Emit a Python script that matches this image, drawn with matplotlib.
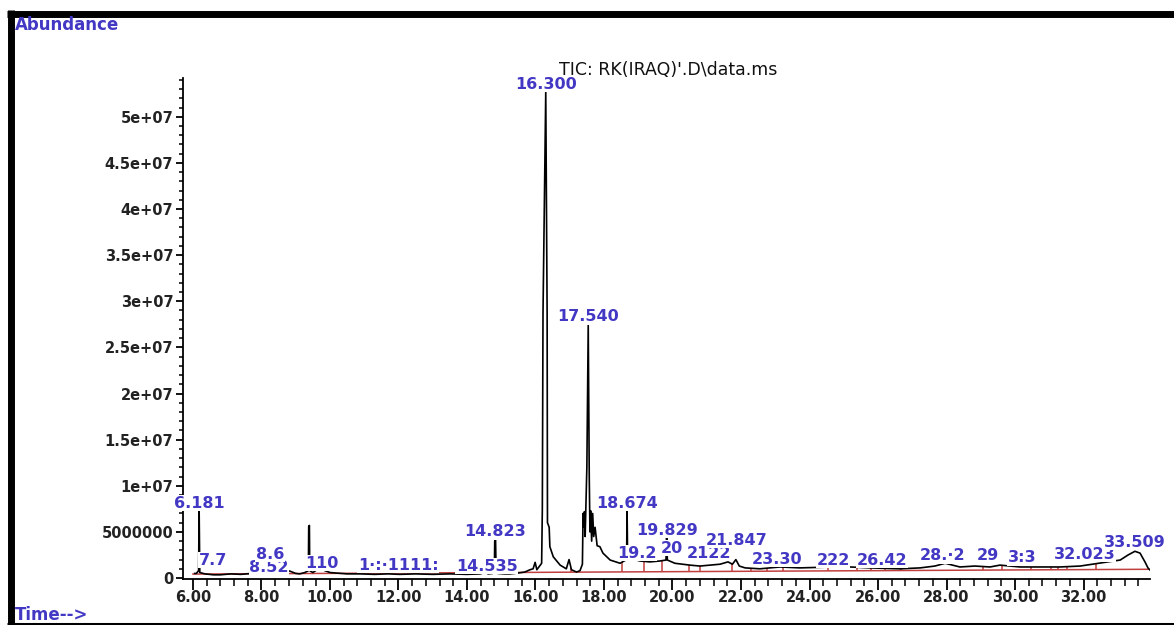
import matplotlib
matplotlib.use("Agg")
import matplotlib.pyplot as plt
import numpy as np
from matplotlib.lines import Line2D
from matplotlib.ticker import MultipleLocator

# retention time (min) and abundance (x 1e6)
rt_min = [6.05, 6.10, 6.165, 6.181, 6.20, 6.35, 6.60, 6.80, 7.10, 7.40,
          7.70, 7.96, 8.10, 8.25, 8.40, 8.54, 8.70, 8.83, 9.00, 9.12,
          9.27, 9.37, 9.38, 9.40, 9.41, 9.50, 9.62, 9.72, 9.85, 10.00,
          10.15, 10.50, 10.88, 11.30, 11.70, 12.04, 12.50, 13.00, 13.50, 14.00,
          14.38, 14.53, 14.62, 14.75, 14.80, 14.81, 14.835, 14.85, 14.90, 15.10,
          15.26, 15.50, 15.69, 15.84, 15.93, 15.99, 16.04, 16.12, 16.18, 16.20,
          16.22, 16.30, 16.34, 16.35, 16.40, 16.42, 16.52, 16.72, 16.90, 16.98,
          17.05, 17.20, 17.30, 17.37, 17.39, 17.41, 17.43, 17.45, 17.47, 17.50,
          17.54, 17.57, 17.59, 17.61, 17.64, 17.67, 17.70, 17.74, 17.80, 17.88,
          17.97, 18.18, 18.47, 18.61, 18.66, 18.674, 18.69, 18.85, 19.05, 19.34,
          19.64, 19.81, 19.829, 19.85, 20.07, 20.51, 20.80, 21.09, 21.39, 21.62,
          21.75, 21.85, 21.95, 22.12, 22.55, 23.14, 23.72, 24.69, 25.18, 25.77,
          26.64, 27.23, 27.66, 27.96, 28.39, 28.83, 29.27, 29.56, 30.15, 30.73,
          31.31, 31.90, 32.63, 33.07, 33.30, 33.50, 33.65, 33.80, 33.88, 33.94]
abundance_e6 = [0.5, 0.5, 0.8, 7.4, 0.6, 0.45, 0.35, 0.35, 0.45, 0.4,
                0.5, 0.65, 0.55, 0.9, 0.7, 1.0, 0.8, 0.75, 0.5, 0.45,
                0.6, 0.8, 5.6, 5.7, 0.8, 0.6, 0.9, 1.1, 0.8, 0.6,
                0.55, 0.45, 0.45, 0.4, 0.45, 0.4, 0.45, 0.4, 0.45, 0.4,
                0.45, 0.6, 0.45, 0.5, 0.7, 4.0, 4.1, 0.7, 0.5, 0.45,
                0.45, 0.55, 0.65, 0.9, 1.0, 1.7, 0.9, 1.3, 1.6, 7.4,
                28.8, 52.7, 28.8, 6.0, 5.5, 3.4, 2.3, 1.4, 1.0, 2.0,
                0.9, 0.65, 0.8, 1.5, 7.0, 5.5, 7.2, 4.5, 7.5, 12.0,
                27.4, 11.0, 5.0, 7.3, 4.0, 7.0, 4.5, 5.5, 3.5, 3.4,
                2.7, 1.95, 1.6, 1.9, 2.0, 7.4, 2.0, 2.05, 1.85, 1.75,
                1.85, 1.95, 4.4, 1.95, 1.6, 1.4, 1.3, 1.4, 1.5, 1.75,
                1.5, 2.0, 1.3, 1.1, 1.0, 1.2, 1.1, 1.2, 1.2, 1.1,
                1.0, 1.1, 1.3, 1.6, 1.2, 1.3, 1.2, 1.4, 1.2, 1.2,
                1.2, 1.3, 1.7, 1.95, 2.5, 2.9, 2.7, 1.7, 1.1, 0.87]

# integration baseline (red) and its event marks
baseline_rt = [6.0, 33.9]
baseline_e6 = [0.43, 0.95]
event_rt = [17.04, 18.53, 19.17, 19.69, 20.48, 20.80, 21.74, 22.29, 22.76, 23.23,
            24.54, 25.39, 25.80, 26.20, 26.67, 29.07, 29.62, 30.47, 31.05, 31.26,
            31.52, 32.36]

# peak labels as they show on the report (later ones overwrite earlier ones)
label_text = ["6.181", "7.7", "8.52", "8.6", "110", "1\u00b7:\u00b71111:", "14.535",
              "14.823", "16.300", "17.540", "18.674", "19.2", "19.829", "20",
              "2122", "21.847", "23.30", "222", "26.42", "28.\u00b72", "29",
              "3:3", "32.023", "33.509"]
label_rt = [6.181, 6.58, 8.22, 8.25, 9.77, 11.99, 14.58,
            14.823, 16.30, 17.54, 18.674, 18.95, 19.829, 19.98,
            21.07, 21.88, 23.05, 24.69, 26.12, 27.87, 29.21,
            30.20, 32.04, 33.50]
label_e6 = [8.1, 1.95, 1.1, 2.6, 1.6, 1.4, 1.3,
            5.0, 53.5, 28.3, 8.1, 2.7, 5.2, 3.25,
            2.7, 4.1, 2.05, 1.95, 1.95, 2.4, 2.4,
            2.2, 2.6, 3.9]

xticks = [6, 8, 10, 12, 14, 16, 18, 20, 22, 24, 26, 28, 30, 32]
yticks = [0, 5e6, 1e7, 1.5e7, 2e7, 2.5e7, 3e7, 3.5e7, 4e7, 4.5e7, 5e7]
ytick_labels = ["0", "5000000", "1e+07", "1.5e+07", "2e+07", "2.5e+07",
                "3e+07", "3.5e+07", "4e+07", "4.5e+07", "5e+07"]

W, H = 1174, 625
blue = "#4338c4"
plt.rcParams["font.family"] = ["DejaVu Sans"]

fig = plt.figure(figsize=(W / 100, H / 100), dpi=100)
ax = fig.add_axes([183 / W, 1 - 578.5 / H, (1150 - 183) / W, (578.5 - 78) / H])

rt = np.array(rt_min)
ab = np.array(abundance_e6) * 1e6
ax.plot(rt, ab, color="black", lw=1.2, zorder=3)

base = np.array(baseline_e6) * 1e6
ax.plot(baseline_rt, base, color="#c0403f", lw=1.1, zorder=2)
ev_bottom = np.interp(event_rt, baseline_rt, base)
ev_top = np.interp(event_rt, rt, ab)
ax.vlines(event_rt, ev_bottom, ev_top, color="#c0403f", lw=1.1, zorder=2)

for i, (txt, t, a) in enumerate(zip(label_text, label_rt, label_e6)):
    ax.text(t, a * 1e6, txt, ha="center", va="center", color=blue,
            fontsize=11.5, fontweight="bold", zorder=10 + i,
            bbox=dict(facecolor="white", edgecolor="none", pad=0.3))

ax.set_xlim(5.71, 33.94)
ax.set_ylim(-5e4, 5.42e7)
ax.set_xticks(xticks)
ax.set_xticklabels([f"{x:.2f}" for x in xticks])
ax.set_yticks(yticks)
ax.set_yticklabels(ytick_labels)
ax.xaxis.set_minor_locator(MultipleLocator(0.4))
ax.yaxis.set_minor_locator(MultipleLocator(1e6))
for s in ["top", "right"]:
    ax.spines[s].set_visible(False)
for s in ["left", "bottom"]:
    ax.spines[s].set_linewidth(1.3)
ax.tick_params(axis="both", which="major", width=1.3, labelsize=10.5,
               labelcolor="#222222", direction="out")
ax.tick_params(axis="x", which="major", length=8, pad=0)
ax.tick_params(axis="x", which="minor", length=5, width=1.1)
ax.tick_params(axis="y", which="major", length=5, pad=2)
ax.tick_params(axis="y", which="minor", length=3, width=1.1)
for lab in ax.get_xticklabels() + ax.get_yticklabels():
    lab.set_fontweight("bold")

fig.text(668 / W, 1 - 70 / H, "TIC: RK(IRAQ)'.D\\data.ms", ha="center",
         va="center", fontsize=12.5, color="#111111")
fig.text(15 / W, 1 - 25 / H, "Abundance", ha="left", va="center",
         fontsize=12, fontweight="bold", color=blue)
fig.text(15 / W, 1 - 615 / H, "Time-->", ha="left", va="center",
         fontsize=12, fontweight="bold", color=blue)

# report frame
fig.add_artist(Line2D([7 / W, 1], [1 - 13.5 / H] * 2, lw=5, color="black",
                      solid_capstyle="butt", transform=fig.transFigure))
fig.add_artist(Line2D([10.5 / W] * 2, [0, 1 - 10 / H], lw=5, color="black",
                      solid_capstyle="butt", transform=fig.transFigure))
fig.add_artist(Line2D([7 / W, 1], [1 - 623.5 / H] * 2, lw=2.2, color="black",
                      solid_capstyle="butt", transform=fig.transFigure))

fig.savefig("out.png", dpi=100)
